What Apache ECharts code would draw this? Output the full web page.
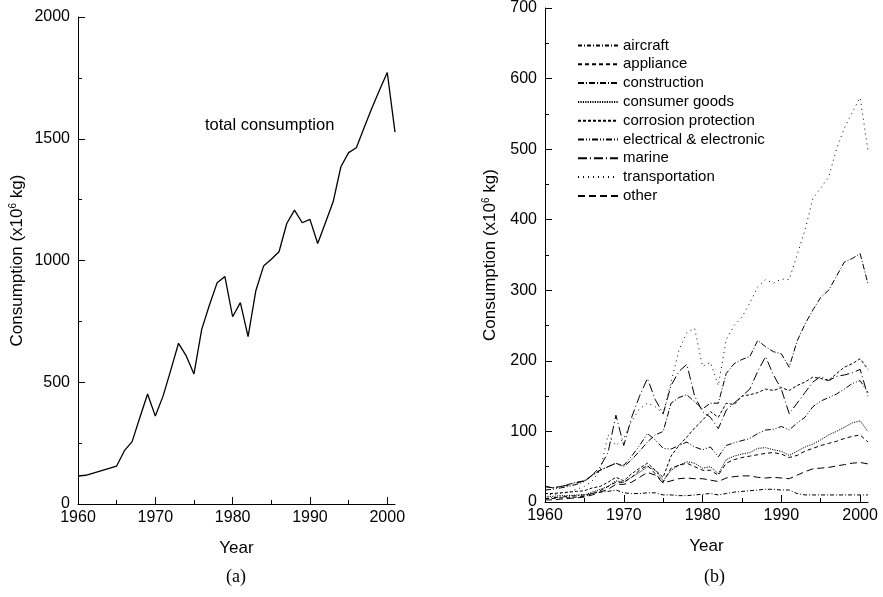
<!DOCTYPE html>
<html><head><meta charset="utf-8">
<script src="https://cdn.jsdelivr.net/npm/echarts@6/dist/echarts.min.js"></script>
<style>html,body{margin:0;padding:0;background:#fff}#c{width:883px;height:597px}</style>
</head><body><div id="c"></div>
<script>
// ---- (a) total consumption ----
const totalYears = [1960,1961,1965,1966,1967,1968,1969,1970,1971,1972,1973,1974,1975,1976,1977,1978,1979,1980,1981,1982,1983,1984,1985,1986,1987,1988,1989,1990,1991,1992,1993,1994,1995,1996,1997,1998,1999,2000,2001];
const totalValues = [115,118,156,219,256,355,452,361,443,550,660,608,534,717,817,909,934,769,827,687,876,977,1005,1036,1152,1207,1155,1169,1070,1155,1241,1385,1443,1463,1545,1625,1700,1772,1527];

// ---- (b) by market ----
const years = [1960,1961,1962,1963,1964,1965,1966,1967,1968,1969,1970,1971,1972,1973,1974,1975,1976,1977,1978,1979,1980,1981,1982,1983,1984,1985,1986,1987,1988,1989,1990,1991,1992,1993,1994,1995,1996,1997,1998,1999,2000,2001];
const aircraft     = [5,6,7,8,9,10,12,14,15,17,13,12,12,13,13,10,10,9,9,10,11,12,10,12,14,15,16,17,18,18,17,17,12,10,10,10,10,10,10,10,10,10];
const appliance    = [5,5,6,6,7,8,12,16,22,28,28,35,45,52,40,28,48,52,55,50,45,45,38,55,60,63,65,67,69,70,68,63,66,72,76,80,83,86,90,93,95,85];
const construction = [22,20,22,25,28,30,38,45,50,55,50,60,72,85,95,100,140,148,152,142,132,140,140,182,196,202,206,229,220,213,210,191,228,252,272,290,300,320,340,345,352,309];
const consumer     = [8,8,9,9,10,10,14,18,22,30,28,35,42,50,45,30,45,52,57,55,48,50,40,60,65,68,70,76,77,74,72,66,72,78,82,88,95,100,106,112,115,100];
const corrosion    = [12,12,13,14,15,16,20,22,28,35,30,40,48,55,45,35,65,80,92,105,116,128,120,140,138,150,152,155,160,158,162,158,165,170,177,175,172,182,191,196,203,188];
const electrical   = [17,18,20,22,25,29,38,45,50,55,52,65,80,97,88,76,75,80,85,78,74,78,64,80,84,87,90,97,102,103,107,102,112,120,135,143,148,153,160,168,172,155];
const marine       = [22,20,22,24,27,30,38,50,70,123,80,120,150,175,145,125,165,185,195,150,128,120,104,130,140,150,160,185,206,180,160,125,140,155,170,178,172,178,180,183,188,150];
const transport    = [10,11,12,14,18,22,30,45,95,80,90,115,132,140,135,125,170,215,240,246,192,198,165,230,250,262,282,305,315,310,316,315,350,385,430,445,460,500,530,552,573,498];
const other        = [3,3,4,5,6,7,10,14,18,25,25,28,35,42,38,27,30,33,34,33,33,31,29,34,36,37,37,35,34,35,34,33,38,43,47,48,49,51,53,55,56,54];

const seriesNames = ['aircraft','appliance','construction','consumer goods','corrosion protection','electrical & electronic','marine','transportation','other'];
const seriesValues = [aircraft, appliance, construction, consumer, corrosion, electrical, marine, transport, other];
const dashes = [[4,2,1,2],[4,3],[6,2,1,2],[1.2,1.2],[3,2],[6,2,1,2,1,2],[9,3,1,3],[1,4],[7,4]];

const majorYears = [1960,1970,1980,1990,2000];
const minorYears = [1965,1975,1985,1995];

const FONT = '"Liberation Sans", Arial, sans-serif';
const txt = {color:'#000', fontFamily: FONT};
const plain = v => String(v);

function xMajor(gridIndex){
  return {type:'value', gridIndex, min:1960, max:2001, position:'bottom',
    axisLine:{show:true, lineStyle:{color:'#000', width:1}},
    axisTick:{show:true, inside:true, length:7, customValues: majorYears, lineStyle:{color:'#000'}},
    axisLabel:{...txt, fontSize:16, margin:6, customValues: majorYears, formatter: plain},
    splitLine:{show:false},
    name:'Year', nameLocation:'middle', nameGap:36, nameTextStyle:{...txt, fontSize:17}};
}
function xMinor(gridIndex){
  return {type:'value', gridIndex, min:1960, max:2001, position:'bottom',
    axisLine:{show:false},
    axisTick:{show:true, inside:true, length:4, customValues: minorYears, lineStyle:{color:'#000'}},
    axisLabel:{show:false}, splitLine:{show:false}};
}
function yAxis(gridIndex, max, interval, gap){
  return {type:'value', gridIndex, min:0, max, interval,
    axisLine:{show:true, lineStyle:{color:'#000', width:1}},
    axisTick:{show:true, inside:true, length:7, lineStyle:{color:'#000'}},
    minorTick:{show:true, splitNumber:2, length:4, lineStyle:{color:'#000'}},
    axisLabel:{...txt, fontSize:16, margin:8, formatter: plain},
    splitLine:{show:false},
    name:'Consumption (x10{sup|6} kg)', nameLocation:'middle', nameGap:gap, nameRotate:90,
    nameTextStyle:{...txt, fontSize:17, rich:{sup:{...txt, fontSize:10, verticalAlign:'top', padding:[0,0,8,0]}}}};
}

const chart = echarts.init(document.getElementById('c'), null, {renderer:'canvas'});
const series = [{
  name:'total', type:'line', xAxisIndex:0, yAxisIndex:0, symbol:'none', silent:true,
  data: totalYears.map((y,i)=>[y,totalValues[i]]),
  lineStyle:{color:'#000', width:1.3}
}];
seriesNames.forEach((n,k)=>{
  series.push({name:n, type:'line', xAxisIndex:2, yAxisIndex:1, symbol:'none', silent:true,
    data: years.map((y,i)=>[y, seriesValues[k][i]]),
    lineStyle:{color:'#000', width:1, type:dashes[k]}, itemStyle:{color:'#000'}});
});

chart.setOption({
  animation:false,
  backgroundColor:'#fff',
  grid:[
    {left:78, top:17, width:317, height:487},
    {left:545, top:7, width:323, height:495}
  ],
  xAxis:[xMajor(0), xMinor(0), xMajor(1), xMinor(1)],
  yAxis:[yAxis(0,2000,500,52), yAxis(1,700,100,46)],
  legend:{
    data: seriesNames, orient:'vertical', left:572, top:33, itemWidth:40, itemHeight:12, itemGap:3.8,
    selectedMode:false,
    itemStyle:{opacity:0, borderWidth:0},
    textStyle:{...txt, fontSize:15}
  },
  graphic:[
    {type:'text', left:205, top:117, style:{text:'total consumption', font:'16.5px '+FONT, fill:'#000'}},
    {type:'text', left:226, top:568, style:{text:'(a)', font:'18px "Liberation Serif", "Times New Roman", serif', fill:'#000'}},
    {type:'text', left:704, top:568, style:{text:'(b)', font:'18px "Liberation Serif", "Times New Roman", serif', fill:'#000'}}
  ],
  series
});
</script></body></html>
